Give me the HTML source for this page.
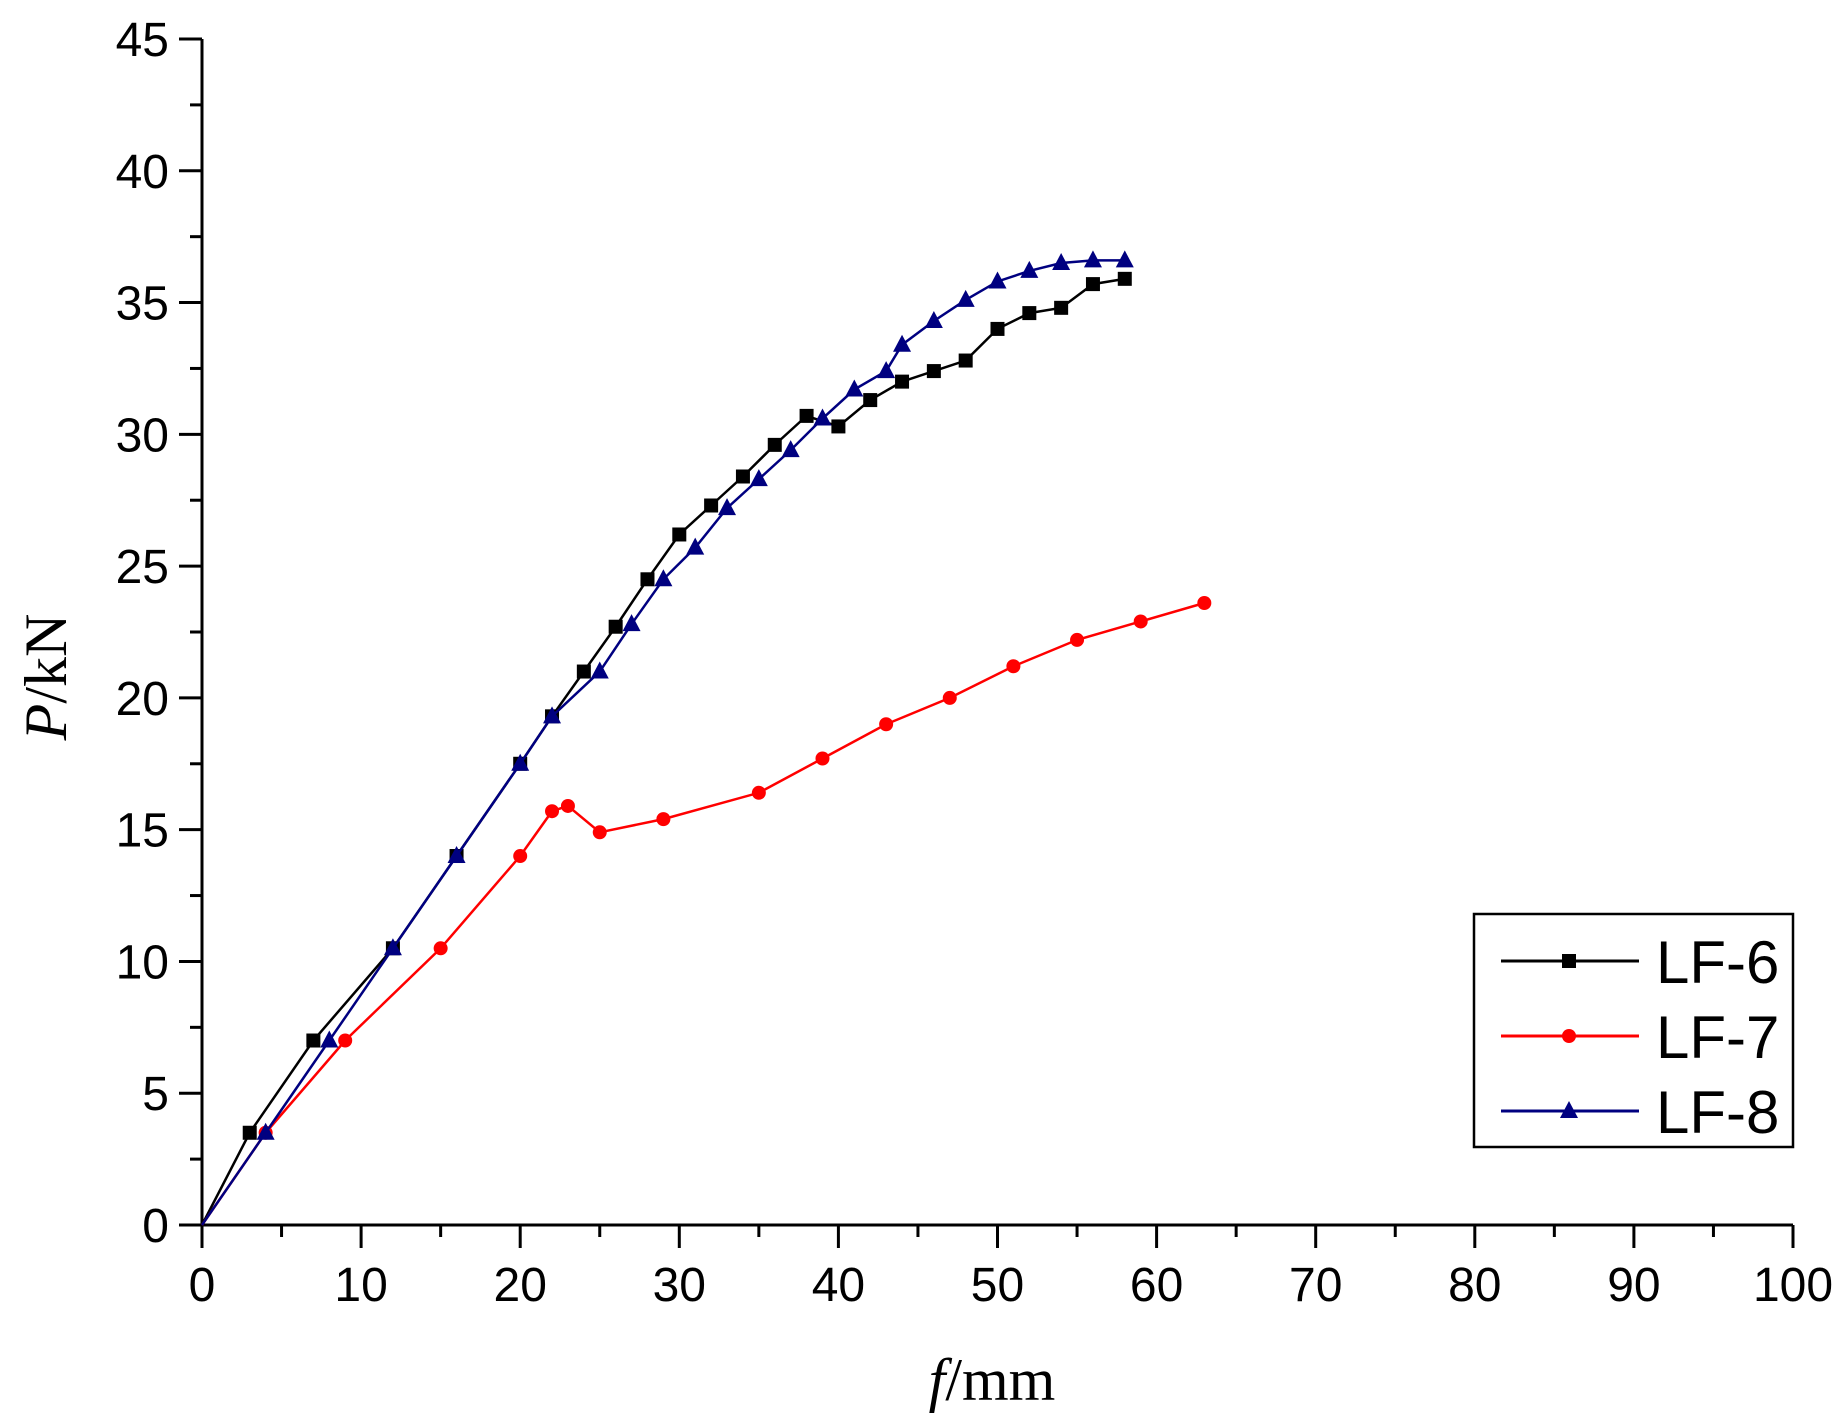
<!DOCTYPE html>
<html><head><meta charset="utf-8"><style>
html,body{margin:0;padding:0;background:#fff;}
svg{display:block;}
</style></head><body>
<svg id="chart" width="1846" height="1426" viewBox="0 0 1846 1426" xmlns="http://www.w3.org/2000/svg" font-family="Liberation Sans, sans-serif">
<g id="axes"></g>
<g id="series"></g>
<g id="legend">
  <rect x="1474" y="914" width="319" height="233" fill="#fff" stroke="#000" stroke-width="2.5"/>
</g>
<text transform="translate(66,677) rotate(-90)" text-anchor="middle" font-family="Liberation Serif, serif" font-size="60"><tspan font-style="italic">P</tspan>/kN</text>
<text x="992" y="1400" text-anchor="middle" font-family="Liberation Serif, serif" font-size="60"><tspan font-style="italic">f</tspan>/mm</text>
</svg>
<script>
const xTicks=[0,10,20,30,40,50,60,70,80,90,100];
const yTicks=[0,5,10,15,20,25,30,35,40,45];
const lf6X=[0,3,7,12,16,20,22,24,26,28,30,32,34,36,38,40,42,44,46,48,50,52,54,56,58];
const lf6Y=[0,3.5,7,10.5,14,17.5,19.3,21,22.7,24.5,26.2,27.3,28.4,29.6,30.7,30.3,31.3,32,32.4,32.8,34,34.6,34.8,35.7,35.9];
const lf7X=[0,4,9,15,20,22,23,25,29,35,39,43,47,51,55,59,63];
const lf7Y=[0,3.5,7,10.5,14,15.7,15.9,14.9,15.4,16.4,17.7,19,20,21.2,22.2,22.9,23.6];
const lf8X=[0,4,8,12,16,20,22,25,27,29,31,33,35,37,39,41,43,44,46,48,50,52,54,56,58];
const lf8Y=[0,3.5,7,10.5,14,17.5,19.3,21,22.8,24.5,25.7,27.2,28.3,29.4,30.6,31.7,32.4,33.4,34.3,35.1,35.8,36.2,36.5,36.6,36.6];
const seriesNames=["LF-6","LF-7","LF-8"];

const NS="http://www.w3.org/2000/svg";
const X0=202,X1=1793,Y0=1225,Y1=39;
const sx=v=>X0+(v-0)/100*(X1-X0);
const sy=v=>Y0-(v-0)/45*(Y0-Y1);
function mk(tag,attrs,parent){const e=document.createElementNS(NS,tag);for(const k in attrs)e.setAttribute(k,attrs[k]);parent.appendChild(e);return e;}
const axes=document.getElementById('axes');
let ya=mk('line',{x1:X0,y1:Y0,x2:X0,y2:Y1,stroke:'#000','stroke-width':3},axes);


let xa=mk('line',{x1:X0,y1:Y0,x2:X1,y2:Y0,stroke:'#000','stroke-width':3},axes);


xTicks.forEach((t,i)=>{
  const x=sx(t);
  const tk=mk('line',{x1:x,y1:Y0,x2:x,y2:Y0+23,stroke:'#000','stroke-width':3},axes);
  
  
  if(i<xTicks.length-1){const m=sx(t+5);const mt=mk('line',{x1:m,y1:Y0,x2:m,y2:Y0+12,stroke:'#000','stroke-width':3},axes);
    
    }
  const lb=mk('text',{x:x,y:Y0+76,'text-anchor':'middle','font-size':48},axes);lb.textContent=t;
  
  
});
yTicks.forEach((t,i)=>{
  const y=sy(t);
  const tk=mk('line',{x1:X0-23,y1:y,x2:X0,y2:y,stroke:'#000','stroke-width':3},axes);
  
  
  if(i<yTicks.length-1){const m=sy(t+2.5);const mt=mk('line',{x1:X0-12,y1:m,x2:X0,y2:m,stroke:'#000','stroke-width':3},axes);
    
    }
  const lb=mk('text',{x:X0-33,y:y+17,'text-anchor':'end','font-size':48},axes);lb.textContent=t;
  
  
});
function marker(type,x,y,color,parent){
  let e;
  if(type==='sq') e=mk('rect',{x:x-7,y:y-7,width:14,height:14,fill:color},parent);
  else if(type==='ci') e=mk('circle',{cx:x,cy:y,r:7,fill:color},parent);
  else e=mk('polygon',{points:`${x},${y-10} ${x-9},${y+7} ${x+9},${y+7}`,fill:color},parent);
  return e;
}
const ser=document.getElementById('series');
const defs=[[lf6X,lf6Y,'#000','sq'],[lf7X,lf7Y,'#ff0000','ci'],[lf8X,lf8Y,'#000080','tr']];
defs.forEach((d,si)=>{
  const g=mk('g',{},ser);
  
  
  const pts=d[0].map((v,i)=>sx(v)+','+sy(d[1][i])).join(' ');
  const pl=mk('polyline',{points:pts,fill:'none',stroke:d[2],'stroke-width':2.5},g);
  
  
  d[0].forEach((v,i)=>{if(i===0)return;const m=marker(d[3],sx(v),sy(d[1][i]),d[2],g);
    
    });
});
const leg=document.getElementById('legend');
defs.forEach((d,si)=>{
  const y=961+si*75;
  const l=mk('line',{x1:1501,y1:y,x2:1639,y2:y,stroke:d[2],'stroke-width':3},leg);
  
  
  const m=marker(d[3],1569,y,d[2],leg);
  
  
  const t=mk('text',{x:1656,y:y+22,'font-size':60},leg);t.textContent=seriesNames[si];
  
  
});
</script>
</body></html>
